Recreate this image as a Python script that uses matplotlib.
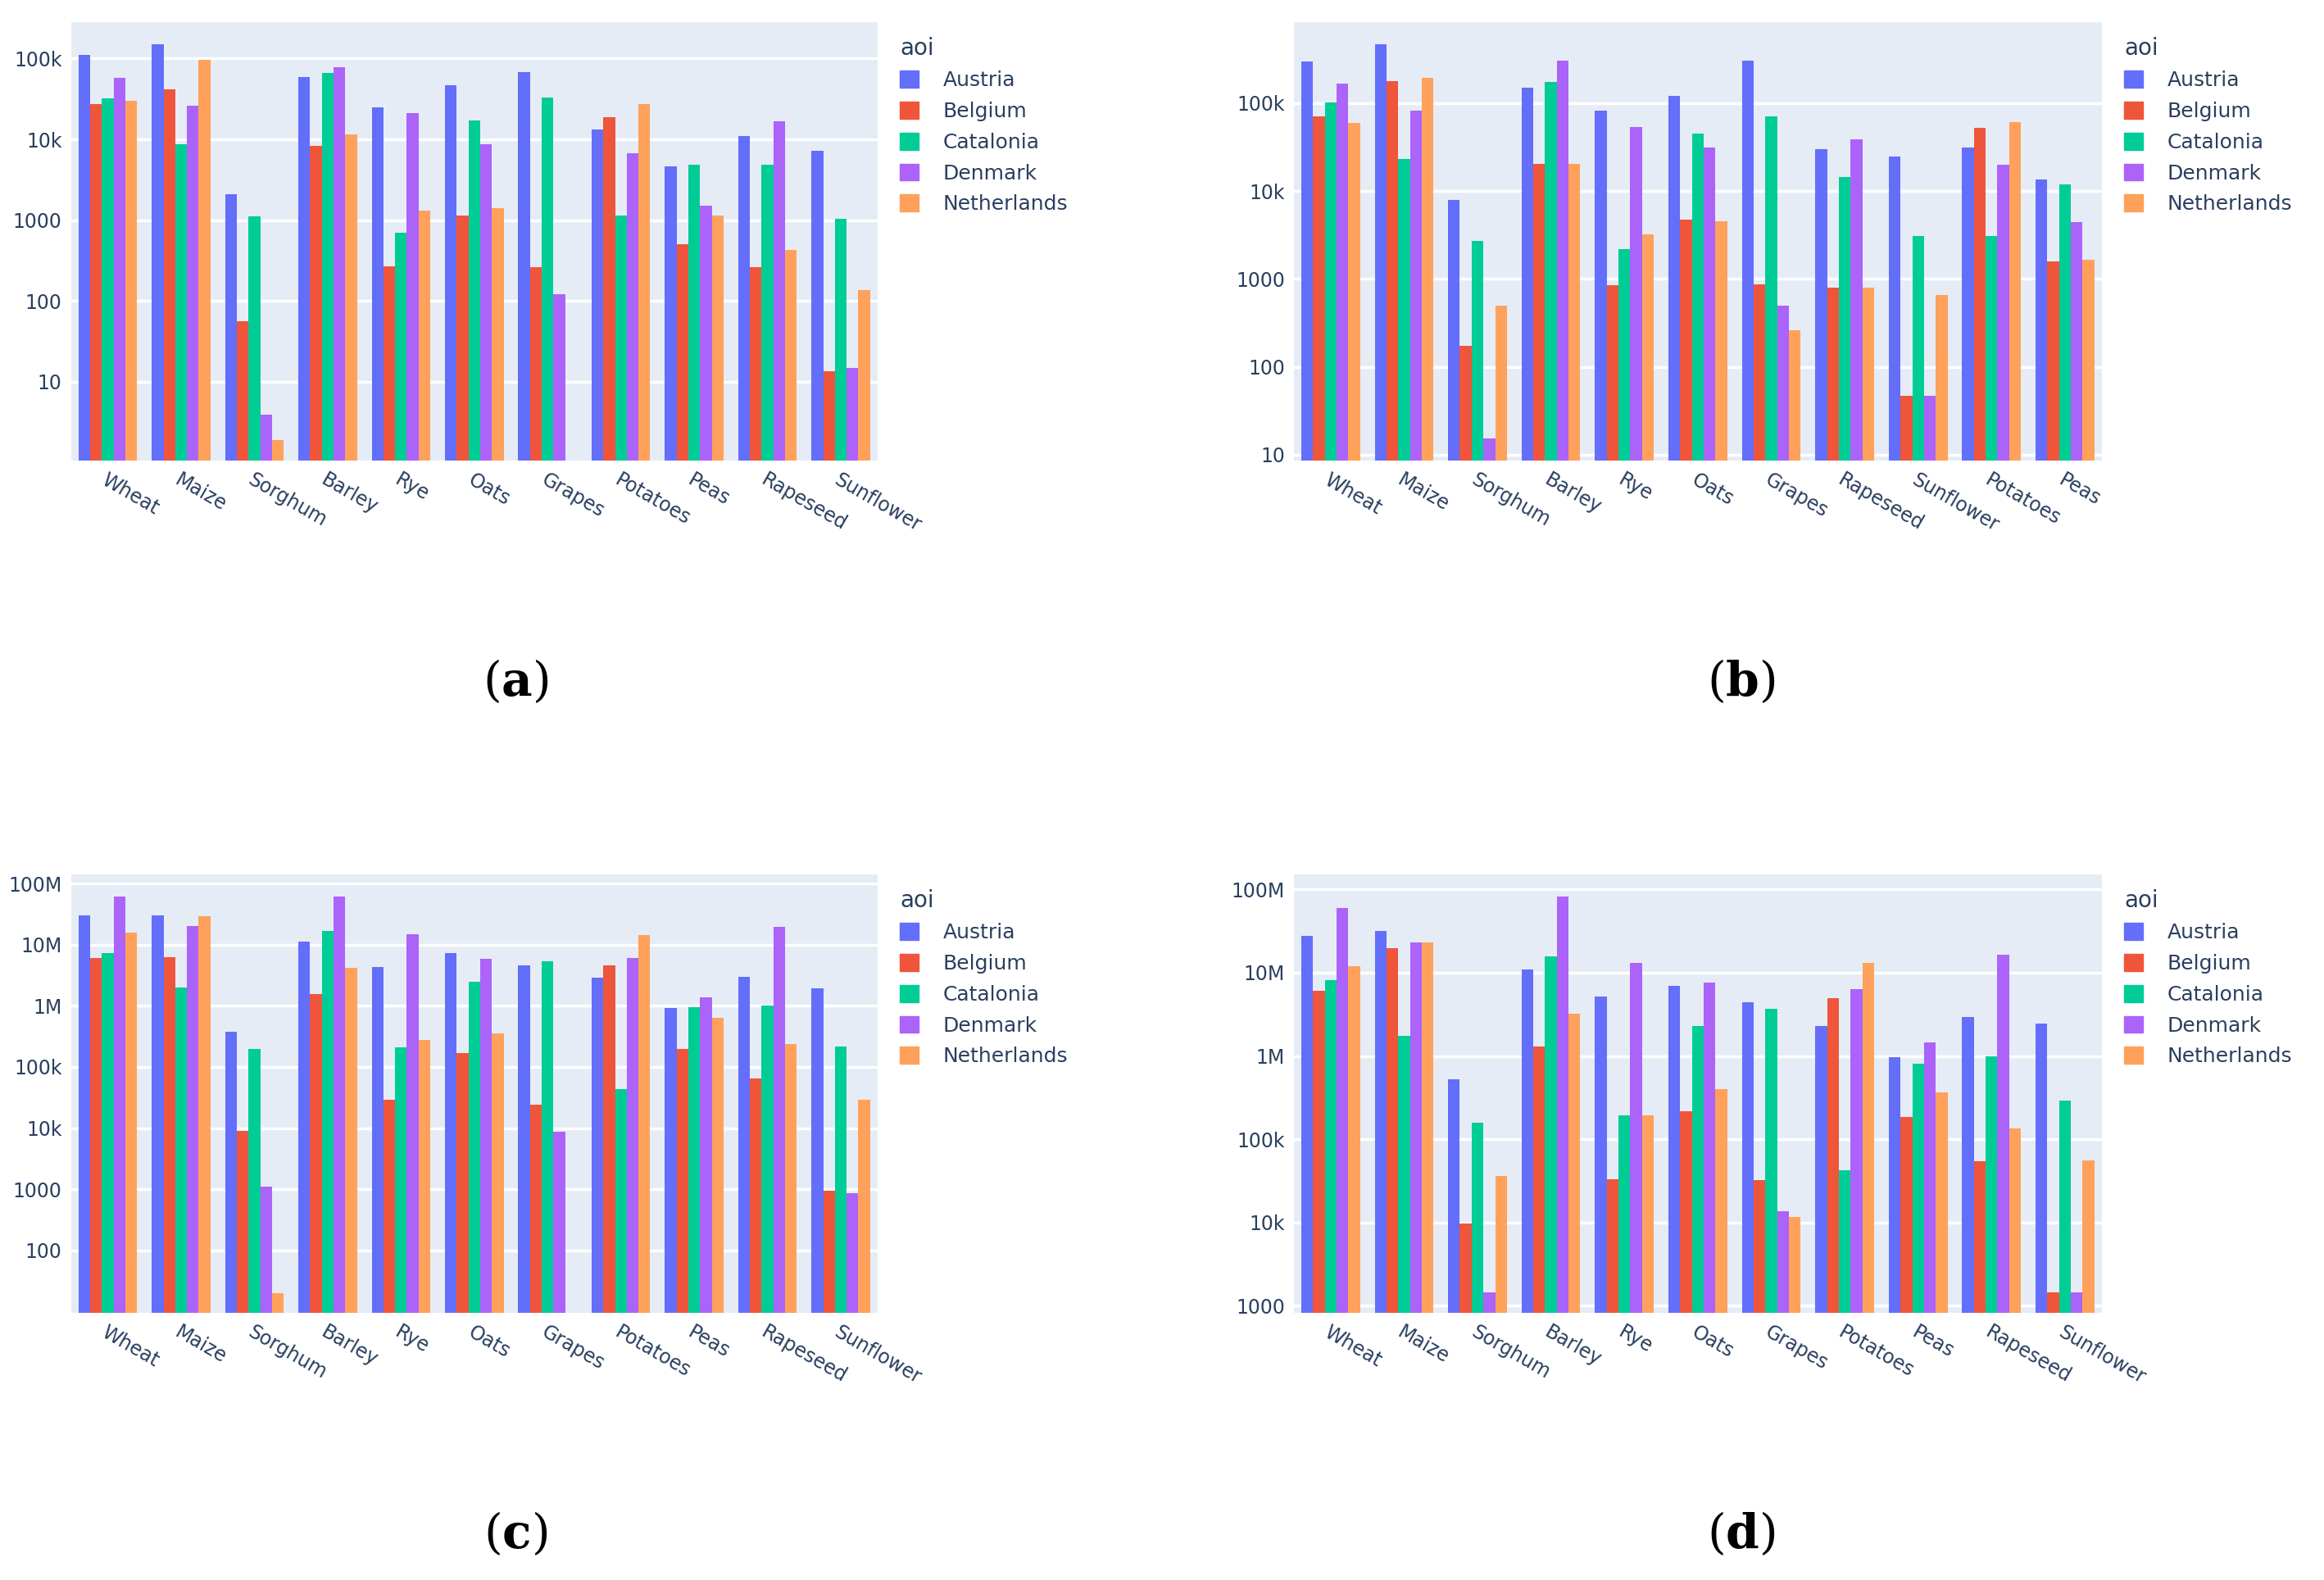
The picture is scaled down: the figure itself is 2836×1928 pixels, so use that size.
import numpy as np
import matplotlib
matplotlib.use("Agg")
import matplotlib.pyplot as plt
from matplotlib.patches import Patch
from matplotlib.ticker import FixedLocator, FixedFormatter, NullLocator

countries = ["Austria", "Belgium", "Catalonia", "Denmark", "Netherlands"]
colors = ["#636EFA", "#EF553B", "#00CC96", "#AB63FA", "#FFA15A"]
nan = np.nan

crops_a = ["Wheat", "Maize", "Sorghum", "Barley", "Rye", "Oats", "Grapes", "Potatoes", "Peas", "Rapeseed", "Sunflower"]
a_austria = [112e3, 150e3, 2100, 59e3, 25e3, 47e3, 68e3, 13.4e3, 4600, 11e3, 7300]
a_belgium = [27.6e3, 42e3, 56, 8400, 270, 1150, 260, 18.7e3, 510, 265, 13.5]
a_catalonia = [32e3, 8700, 1120, 67e3, 700, 17e3, 33e3, 1150, 4900, 4900, 1050]
a_denmark = [58e3, 26e3, 3.9, 78e3, 21e3, 8800, 120, 6700, 1500, 16.7e3, 15]
a_netherlands = [30e3, 97e3, 1.9, 11.5e3, 1300, 1400, nan, 27.6e3, 1150, 430, 135]

crops_b = ["Wheat", "Maize", "Sorghum", "Barley", "Rye", "Oats", "Grapes", "Rapeseed", "Sunflower", "Potatoes", "Peas"]
b_austria = [297e3, 470e3, 7900, 149e3, 83e3, 122e3, 302e3, 30e3, 24.6e3, 31e3, 13.5e3]
b_belgium = [71e3, 178e3, 175, 20.5e3, 850, 4700, 870, 795, 47, 52e3, 1600]
b_catalonia = [102e3, 23e3, 2700, 175e3, 2200, 45e3, 70e3, 14.4e3, 3100, 3100, 12e3]
b_denmark = [166e3, 83e3, 15.5, 302e3, 54e3, 31e3, 500, 39e3, 47, 20e3, 4400]
b_netherlands = [60e3, 194e3, 500, 20.5e3, 3200, 4500, 263, 795, 660, 61e3, 1660]

crops_c = crops_a
c_austria = [30e6, 30e6, 380e3, 11.4e6, 4.3e6, 7.4e6, 4.6e6, 2.9e6, 0.93e6, 3.0e6, 1.95e6]
c_belgium = [6.1e6, 6.3e6, 9100, 1.55e6, 29e3, 167e3, 24.5e3, 4.6e6, 195e3, 64e3, 930]
c_catalonia = [7.4e6, 2.0e6, 195e3, 17e6, 210e3, 2.5e6, 5.4e6, 44e3, 0.96e6, 1.0e6, 218e3]
c_denmark = [61e6, 20e6, 1100, 61e6, 15e6, 5.8e6, 8700, 6.0e6, 1.4e6, 19.5e6, 870]
c_netherlands = [16e6, 29e6, 20, 4.2e6, 275e3, 350e3, nan, 14.5e6, 630e3, 240e3, 29e3]

crops_d = crops_a
d_austria = [27.6e6, 32e6, 520e3, 11e6, 5.2e6, 6.9e6, 4.4e6, 2.3e6, 0.96e6, 2.97e6, 2.45e6]
d_belgium = [6e6, 19.6e6, 9800, 1.3e6, 33e3, 215e3, 32e3, 4.9e6, 187e3, 55e3, 1450]
d_catalonia = [8.2e6, 1.74e6, 158e3, 15.8e6, 195e3, 2.3e6, 3.7e6, 42e3, 0.81e6, 1.0e6, 290e3]
d_denmark = [60e6, 23e6, 1450, 83e6, 13e6, 7.6e6, 13.5e3, 6.3e6, 1.45e6, 16.5e6, 1450]
d_netherlands = [12e6, 23e6, 36e3, 3.2e6, 195e3, 400e3, 11.7e3, 13e6, 365e3, 135e3, 56e3]

panels = [
    ("a", crops_a, [a_austria, a_belgium, a_catalonia, a_denmark, a_netherlands],
     (0.02, 5.45), [10, 100, 1000, 1e4, 1e5], ["10", "100", "1000", "10k", "100k"]),
    ("b", crops_b, [b_austria, b_belgium, b_catalonia, b_denmark, b_netherlands],
     (0.93, 5.92), [10, 100, 1000, 1e4, 1e5], ["10", "100", "1000", "10k", "100k"]),
    ("c", crops_c, [c_austria, c_belgium, c_catalonia, c_denmark, c_netherlands],
     (0.97, 8.15), [100, 1000, 1e4, 1e5, 1e6, 1e7, 1e8], ["100", "1000", "10k", "100k", "1M", "10M", "100M"]),
    ("d", crops_d, [d_austria, d_belgium, d_catalonia, d_denmark, d_netherlands],
     (2.91, 8.18), [1000, 1e4, 1e5, 1e6, 1e7, 1e8], ["1000", "10k", "100k", "1M", "10M", "100M"]),
]

W, H = 1568, 1066
boxes = {"a": (48, 592, 15, 311), "b": (873, 1418, 15, 311),
         "c": (48, 592, 590, 886), "d": (873, 1418, 590, 886)}
label_pos = {"a": (348, 460), "b": (1175, 460), "c": (348, 1035), "d": (1175, 1035)}

plt.rcParams["mathtext.fontset"] = "dejavuserif"
fig = plt.figure(figsize=(28.36, 19.28), dpi=100)
txt = "#2a3f5f"

for key, crops, series, ylim, ticks, tlabels in panels:
    l, r, t, b = boxes[key]
    ax = fig.add_axes([l / W, 1 - b / H, (r - l) / W, (b - t) / H])
    ax.set_facecolor("#E5ECF6")
    ax.set_yscale("log")
    x = np.arange(len(crops))
    bw = 0.16
    bottom = 10 ** ylim[0]
    for i, (vals, c) in enumerate(zip(series, colors)):
        v = np.array(vals, dtype=float)
        ax.bar(x - 0.4 + bw * (i + 0.5), v - bottom, bw, bottom=bottom, color=c, zorder=3, linewidth=0)
    ax.set_ylim(10 ** ylim[0], 10 ** ylim[1])
    ax.set_xlim(-0.5, len(crops) - 0.5)
    ax.yaxis.set_major_locator(FixedLocator(ticks))
    ax.yaxis.set_major_formatter(FixedFormatter(tlabels))
    ax.yaxis.set_minor_locator(NullLocator())
    ax.grid(axis="y", color="white", linewidth=2.5, zorder=0)
    ax.set_xticks(x)
    ax.set_xticklabels(crops, rotation=-30, ha="left", rotation_mode="anchor")
    ax.tick_params(length=0, labelsize=17, colors=txt, pad=8)
    for s in ax.spines.values():
        s.set_visible(False)
    handles = [Patch(color=c, label=n) for c, n in zip(colors, countries)]
    leg = ax.legend(handles=handles, title="aoi", loc="upper left", bbox_to_anchor=(1.01, 1.0),
                    frameon=False, fontsize=18, title_fontsize=20, handlelength=0.9,
                    handleheight=0.9, labelspacing=0.55, handletextpad=1.2, borderaxespad=0.3)
    leg._legend_box.align = "left"
    for tx in leg.get_texts():
        tx.set_color(txt)
    leg.get_title().set_color(txt)
    lx, ly = label_pos[key]
    fig.text(lx / W, 1 - ly / H, r"($\mathbf{" + key + r"}$)", fontsize=42, ha="center", va="center",
             family="DejaVu Serif")

fig.savefig("out.png", dpi=100, facecolor="white")
